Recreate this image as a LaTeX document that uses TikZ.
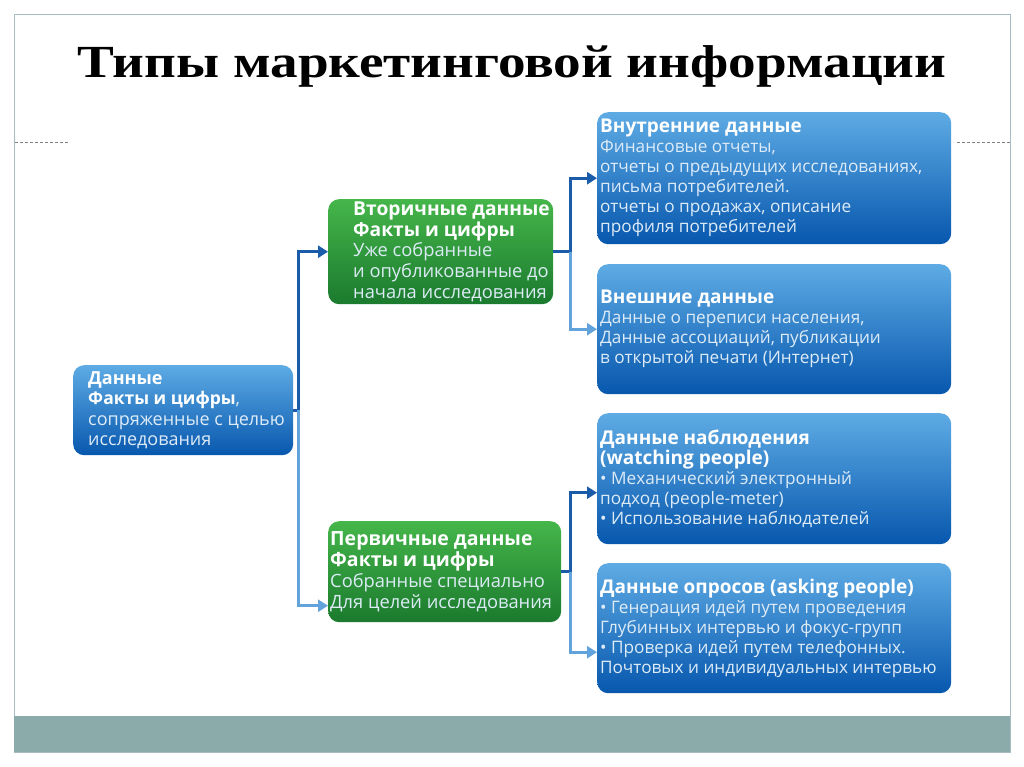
\documentclass[tikz,border=0pt]{standalone}
\usepackage{fontspec}
\usepackage{graphicx}
\setmainfont{Liberation Serif}
\setsansfont{Open Sans}
\usetikzlibrary{arrows.meta}
\definecolor{boxtop}{HTML}{5EABE4}
\definecolor{boxbot}{HTML}{0757AE}
\definecolor{greentop}{HTML}{45B64A}
\definecolor{greenbot}{HTML}{1B7A2E}
\definecolor{softtext}{HTML}{DDEBF7}
\definecolor{darkline}{HTML}{1A5BAA}
\definecolor{lightline}{HTML}{62A3DC}
\definecolor{bandgray}{HTML}{8BABAB}
\definecolor{framegray}{HTML}{A9BCC4}
\tikzset{					% box and arrow styles
	card/.style={			% common look of all boxes
		rectangle, rounded corners=11pt, anchor=north west, inner sep=0pt
	},
	bluebox/.style={card, top color=boxtop, bottom color=boxbot},
	greenbox/.style={card, top color=greentop, bottom color=greenbot},
	cardtext/.style={anchor=west, align=left, inner sep=0pt, text=softtext,
		font=\sffamily\fontsize{17.2}{20}\selectfont},
	greentext/.style={cardtext, font=\sffamily\fontsize{18.3}{20.8}\selectfont},
	darkarrow/.style={draw=darkline, line width=3pt, -{Triangle[length=10pt,width=12pt]}},
	lightarrow/.style={draw=lightline, line width=3pt, -{Triangle[length=10pt,width=12pt]}}
}
% bold white heading line, size as optional argument
\newcommand{\hd}[2][19]{\textcolor{white}{\fontsize{#1}{20}\selectfont\bfseries #2}}
\begin{document}
\begin{tikzpicture}[x=1pt,y=-1pt]
	\useasboundingbox (0,0) rectangle (1024,767);
	% slide frame
	\draw[framegray, line width=1pt] (14,15) rectangle (1010,752);
	\fill[bandgray] (14,716) rectangle (1010,752);
	\draw[gray, densely dashed, line width=0.6pt] (15,142) -- (70,142);
	\draw[gray, densely dashed, line width=0.6pt] (957,142) -- (1010,142);
	\node[anchor=base, font=\bfseries\fontsize{46}{50}\selectfont] (title) at (512,78)
		{\scalebox{1.2}[1]{Типы маркетинговой информации}};
	% boxes
	\node[bluebox, minimum width=220pt, minimum height=90pt] (data) at (73,365) {};
	\node[cardtext, font=\sffamily\fontsize{18}{20.5}\selectfont] (data-t) at ([xshift=15pt]data.west)
		{\hd[18]{Данные}\\ \hd[17.5]{Факты и цифры},\\ сопряженные с целью\\ исследования};
	\node[greenbox, minimum width=225pt, minimum height=105pt] (sec) at (328,199) {};
	\node[greentext] (sec-t) at ([xshift=25pt]sec.west)
		{\hd[19.2]{Вторичные данные}\\ \hd[19.2]{Факты и цифры}\\ Уже собранные\\ и опубликованные до\\ начала исследования};
	\node[greenbox, minimum width=233pt, minimum height=101pt] (prim) at (328,521) {};
	\node[greentext] (prim-t) at ([xshift=2pt]prim.west)
		{\hd[19.5]{Первичные данные}\\ \hd[19.5]{Факты и цифры}\\ Собранные специально\\ Для целей исследования};
	\node[bluebox, minimum width=354pt, minimum height=132pt] (inner) at (597,112) {};
	\node[cardtext] (inner-t) at ([xshift=3pt]inner.west)
		{\hd{Внутренние данные}\\ Финансовые отчеты,\\ отчеты о предыдущих исследованиях,\\ письма потребителей.\\ отчеты о продажах, описание\\ профиля потребителей};
	\node[bluebox, minimum width=354pt, minimum height=130pt] (ext) at (597,264) {};
	\node[cardtext] (ext-t) at ([xshift=3pt]ext.west)
		{\hd{Внешние данные}\\ Данные о переписи населения,\\ Данные ассоциаций, публикации\\ в открытой печати (Интернет)};
	\node[bluebox, minimum width=354pt, minimum height=131pt] (watch) at (597,413) {};
	\node[cardtext] (watch-t) at ([xshift=3pt]watch.west)
		{\hd{Данные наблюдения}\\ \hd{(watching people)}\\ • Механический электронный\\ подход (people-meter)\\ • Использование наблюдателей};
	\node[bluebox, minimum width=354pt, minimum height=130pt] (ask) at (597,563) {};
	\node[cardtext] (ask-t) at ([xshift=3pt]ask.west)
		{\hd{Данные опросов (asking people)}\\ • Генерация идей путем проведения\\ Глубинных интервью и фокус-групп\\ • Проверка идей путем телефонных.\\ Почтовых и индивидуальных интервью};
	% connectors
	\draw[darkarrow] (data.east) -- ++(5,0) coordinate (j1) |- (sec.west);
	\draw[lightarrow] (j1) |- ([yshift=-34pt]prim.west);
	\draw[darkarrow] (sec.east) -- ++(17,0) coordinate (j2) |- (inner.west);
	\draw[lightarrow] (j2) |- (ext.west);
	\draw[darkarrow] (prim.east) -- ++(9,0) coordinate (j3) |- ([yshift=-14pt]watch.west);
	\draw[lightarrow] (j3) |- ([yshift=-24pt]ask.west);
\end{tikzpicture}
\end{document}
